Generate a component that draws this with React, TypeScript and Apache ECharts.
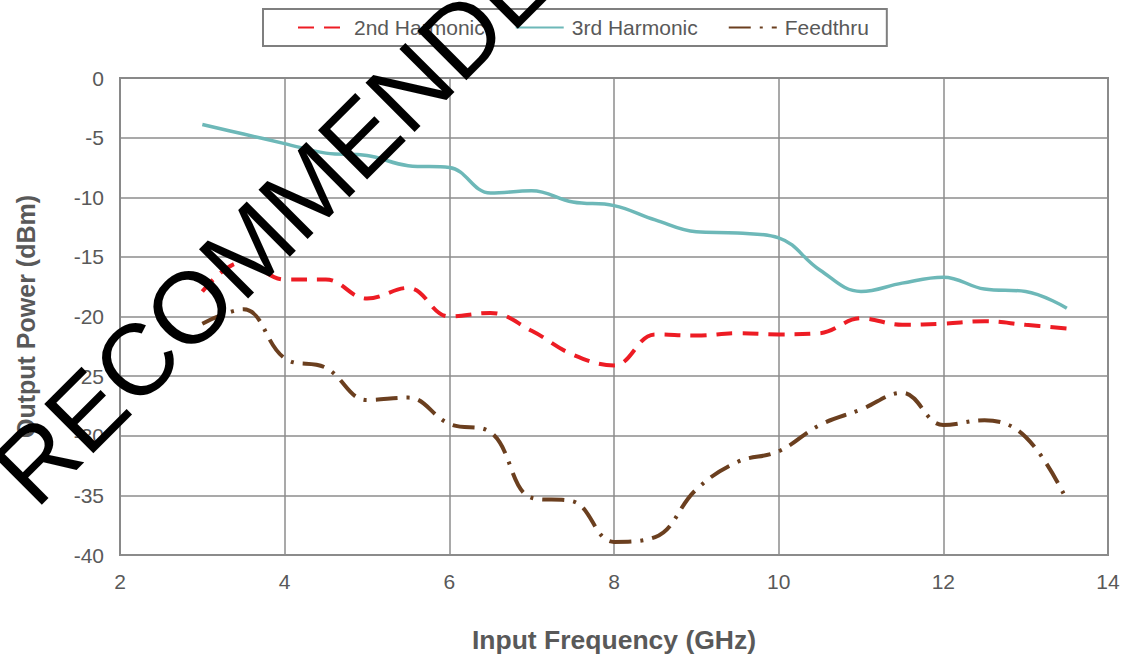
import React, { useEffect, useRef } from "react";
import * as echarts from "echarts";

const freq = [3, 3.5, 4, 4.5, 5, 5.5, 6, 6.5, 7, 7.5, 8, 8.5, 9, 9.5, 10, 10.5, 11, 11.5, 12, 12.5, 13, 13.5];
const harm2 = [-17.9, -15.4, -16.9, -16.9, -18.5, -17.6, -20.0, -19.7, -21.2, -23.2, -24.1, -21.5, -21.6, -21.4, -21.5, -21.4, -20.15, -20.7, -20.6, -20.4, -20.7, -21.0];
const harm3 = [-3.9, -4.7, -5.5, -6.3, -6.5, -7.35, -7.5, -9.65, -9.45, -10.4, -10.7, -11.9, -12.9, -13.0, -13.4, -16.1, -17.9, -17.2, -16.7, -17.7, -17.9, -19.3];
const feed = [-20.6, -19.4, -23.5, -24.3, -27.0, -26.8, -29.0, -29.7, -35.2, -35.5, -38.9, -38.5, -34.5, -32.2, -31.3, -29.1, -27.8, -26.4, -29.1, -28.7, -30.1, -35.4];

const seriesNames = ["2nd Harmonic", "3rd Harmonic", "Feedthru"];
const xTitle = "Input Frequency (GHz)";
const yTitle = "Output Power (dBm)";
const watermark = "NOT RECOMMENDED";

const pair = (ys: number[]) => freq.map((f, i) => [f, ys[i]]);

export default function App() {
  const ref = useRef<HTMLDivElement>(null);
  useEffect(() => {
    if (!ref.current) return;
    const chart = echarts.init(ref.current, undefined, { renderer: "svg" });
    const font = '"Liberation Sans", Arial, sans-serif';
    chart.setOption({
      animation: false,
      backgroundColor: "#ffffff",
      grid: {
        left: 120,
        right: 17,
        top: 78,
        bottom: 103,
        show: true,
        borderColor: "#898989",
        borderWidth: 2,
      },
      legend: {
        left: 263,
        top: 9,
        padding: [8, 18, 8, 34],
        borderColor: "#7f7f7f",
        borderWidth: 2,
        itemWidth: 48,
        itemHeight: 14,
        itemGap: 30,
        itemStyle: { color: "rgba(0,0,0,0)", borderWidth: 0, opacity: 0 },
        textStyle: { color: "#595959", fontSize: 21, fontFamily: font, padding: [0, 0, 0, 3] },
        data: seriesNames,
      },
      xAxis: {
        type: "value",
        min: 2,
        max: 14,
        interval: 2,
        name: xTitle,
        nameLocation: "middle",
        nameGap: 71,
        nameTextStyle: { color: "#595959", fontSize: 26.5, fontWeight: "bold", fontFamily: font },
        axisLine: { lineStyle: { color: "#898989", width: 2 } },
        axisTick: { show: false },
        axisLabel: { color: "#595959", fontSize: 21, fontFamily: font, margin: 16 },
        splitLine: { lineStyle: { color: "#8c8c8c", width: 1.5 } },
      },
      yAxis: {
        type: "value",
        min: -40,
        max: 0,
        interval: 5,
        name: yTitle,
        nameLocation: "middle",
        nameGap: 82,
        nameTextStyle: { color: "#595959", fontSize: 25, fontWeight: "bold", fontFamily: font },
        axisLine: { show: true, lineStyle: { color: "#898989", width: 2 } },
        axisTick: { show: false },
        axisLabel: { color: "#595959", fontSize: 21, fontFamily: font, margin: 16 },
        splitLine: { lineStyle: { color: "#8c8c8c", width: 1.5 } },
      },
      series: [
        {
          name: seriesNames[0],
          type: "line",
          data: pair(harm2),
          smooth: 0.4,
          symbol: "none",
          lineStyle: { color: "#ED1C24", width: 4, type: [16, 10] },
          itemStyle: { color: "#ED1C24" },
          z: 3,
        },
        {
          name: seriesNames[1],
          type: "line",
          data: pair(harm3),
          smooth: 0.4,
          symbol: "none",
          lineStyle: { color: "#6DB8B8", width: 3.5 },
          itemStyle: { color: "#6DB8B8" },
          z: 2,
        },
        {
          name: seriesNames[2],
          type: "line",
          data: pair(feed),
          smooth: 0.4,
          symbol: "none",
          lineStyle: { color: "#6B3F1F", width: 4, type: [22, 9, 3, 9] },
          itemStyle: { color: "#6B3F1F" },
          z: 4,
        },
      ],
      graphic: [
        {
          type: "text",
          x: -158,
          y: 655,
          rotation: Math.PI / 4,
          z: 100,
          silent: true,
          style: {
            text: watermark,
            font: 'normal 101px "Liberation Sans", Arial, sans-serif',
            fill: "#000000",
            textAlign: "left",
            textVerticalAlign: "middle",
          },
        },
      ],
    });
    return () => chart.dispose();
  }, []);
  return (
    <div
      ref={ref}
      style={{ position: "absolute", left: 0, top: 0, width: 1125, height: 658 }}
    />
  );
}
